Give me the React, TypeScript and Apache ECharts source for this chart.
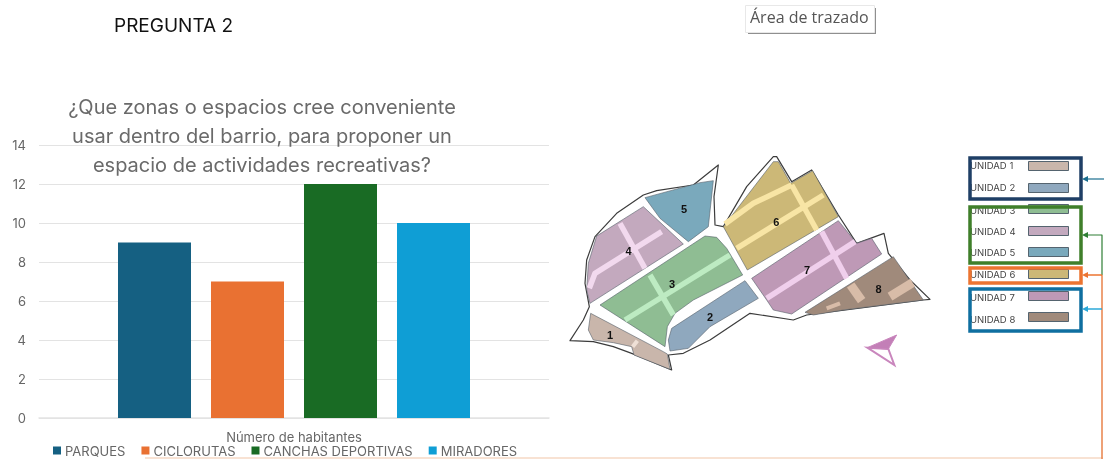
import React, { useEffect, useRef } from "react";
import * as echarts from "echarts";

const axisCategories = ["Número de habitantes"];
const seriesNames = ["PARQUES", "CICLORUTAS", "CANCHAS DEPORTIVAS", "MIRADORES"];
const seriesValues = [9, 7, 12, 10];
const seriesColors = ["#156082", "#E97132", "#196B24", "#0F9ED5"];
const chartTitle = "¿Que zonas o espacios cree conveniente\nusar dentro del barrio, para proponer un\nespacio de actividades recreativas?";
const unitNames = ["UNIDAD 1", "UNIDAD 2", "UNIDAD 3", "UNIDAD 4", "UNIDAD 5", "UNIDAD 6", "UNIDAD 7", "UNIDAD 8"];
const unitColors = ["#C9B6AB", "#8FA8BE", "#8FBD93", "#C3A9BE", "#7AA9BC", "#CCB877", "#BE99B6", "#A08A7B"];

type P = [number, number];
const M = (x: number, y: number): number[] => [560 + x / 3, 150 + y / 3];
const mp = (pts: P[]) => pts.map(([x, y]) => M(x, y));

const outline: P[] = [[30,572],[70,510],[88,470],[75,400],[80,330],[105,260],[170,190],[250,135],[290,122],[400,105],[475,45],[462,140],[465,225],[490,230],[560,110],[640,20],[650,20],[695,95],[755,60],[835,195],[890,280],[972,250],[985,310],[1050,390],[1110,448],[1090,450],[740,495],[700,510],[570,490],[450,570],[370,610],[325,615],[335,660],[215,610],[160,590],[100,575]];
const unitShapes: P[][] = [
  [[92,490],[310,605],[322,612],[330,658],[222,615],[215,590],[160,578],[100,570],[85,540]],
  [[335,535],[555,392],[595,445],[450,530],[385,595],[330,603],[325,570]],
  [[120,465],[435,258],[470,262],[500,295],[548,375],[400,450],[345,490],[322,530],[315,590]],
  [[90,460],[370,282],[250,170],[110,258],[85,340],[80,420]],
  [[255,143],[420,98],[460,92],[445,230],[385,275],[300,205]],
  [[490,230],[640,35],[655,35],[692,100],[758,62],[835,200],[562,360]],
  [[575,385],[835,212],[890,280],[935,265],[965,312],[695,492],[640,480],[620,450]],
  [[735,487],[1000,320],[1090,450],[850,480],[760,495]],
];
const streets: { c: string; w: number; pts: P[] }[] = [
  { c: "#EFE0D6", w: 4, pts: [[218,590],[232,572]] },
  { c: "#BDEBC2", w: 5.5, pts: [[195,510],[510,315]] },
  { c: "#BDEBC2", w: 5.5, pts: [[270,375],[340,495]] },
  { c: "#F2D9EE", w: 5.5, pts: [[88,415],[105,370],[305,245]] },
  { c: "#F2D9EE", w: 5.5, pts: [[180,220],[255,355]] },
  { c: "#F8E5A5", w: 5.5, pts: [[495,222],[580,160],[695,105]] },
  { c: "#F8E5A5", w: 5.5, pts: [[530,295],[790,135]] },
  { c: "#F8E5A5", w: 5.5, pts: [[695,105],[770,240]] },
  { c: "#F0CFEC", w: 5.5, pts: [[620,445],[885,275]] },
  { c: "#F0CFEC", w: 5.5, pts: [[785,245],[860,385]] },
  { c: "#D8BCA8", w: 9, pts: [[872,405],[905,452]] },
  { c: "#D8BCA8", w: 9, pts: [[990,440],[1058,398]] },
  { c: "#D8BCA8", w: 4, pts: [[800,475],[840,460]] },
];
const mapLabels: P[] = [[150,556],[450,502],[336,403],[206,302],[372,178],[649,215],[741,360],[956,418]];
const labelY = [165, 187, 210, 231, 252, 274, 297, 319];
const swatchY = [161, 183, 204, 226, 247, 269, 291, 312];
const boxes = [
  { c: "#1F3F66", x: 970, y: 158, w: 111, h: 41 },
  { c: "#3F7F2A", x: 970, y: 207, w: 111, h: 56 },
  { c: "#EC7431", x: 970, y: 268, w: 111, h: 15 },
  { c: "#0F6FA0", x: 970, y: 289, w: 111, h: 42 },
];

const line = (pts: number[][], color: string, w: number, z = 10) => ({
  type: "polyline", z, silent: true, shape: { points: pts },
  style: { stroke: color, lineWidth: w, fill: "none", lineJoin: "round" },
});
const head = (x: number, y: number, color: string) => ({
  type: "polygon", z: 12, silent: true,
  shape: { points: [[x, y], [x + 6, y - 3], [x + 6, y + 3]] }, style: { fill: color },
});

export default function App() {
  const ref = useRef<HTMLDivElement>(null);
  useEffect(() => {
    const chart = echarts.init(ref.current!, undefined, { renderer: "svg" });
    const graphics: any[] = [
      { type: "text", x: 114, y: 16, style: { text: "PREGUNTA 2", fontSize: 19, fontFamily: "Inter", fill: "#111" } },
      { type: "rect", shape: { x: 748, y: 8, width: 128, height: 26 }, style: { fill: "#8f8f8f" } },
      { type: "rect", shape: { x: 745.5, y: 5.5, width: 129, height: 27 }, style: { fill: "#fff", stroke: "#e8e8e8", lineWidth: 1 } },
      { type: "text", x: 750, y: 9, style: { text: "Área de trazado", fontSize: 16, fontFamily: "Open Sans", fill: "#555" } },
      { type: "polygon", z: 5, silent: true, shape: { points: mp(outline) }, style: { fill: "#fff", stroke: "#3c3c3c", lineWidth: 1.2, lineJoin: "round" } },
    ];
    unitShapes.forEach((s, i) => graphics.push({
      type: "polygon", z: 6, silent: true, shape: { points: mp(s) },
      style: { fill: unitColors[i], stroke: "#55606a", lineWidth: 0.6, lineJoin: "round" },
    }));
    streets.forEach((s) => graphics.push(line(mp(s.pts), s.c, s.w, 7)));
    mapLabels.forEach(([x, y], i) => {
      const [ax, ay] = M(x, y);
      graphics.push({ type: "text", z: 8, x: ax, y: ay, style: { text: String(i + 1), fontSize: 11, fontWeight: "bold", fontFamily: "Liberation Sans", fill: "#111", align: "center", verticalAlign: "middle" } });
    });
    // north arrow
    graphics.push({ type: "polygon", z: 6, shape: { points: mp([[922,593],[1003,645],[985,597]]) }, style: { fill: "#fff", stroke: "#C986BD", lineWidth: 2 } });
    graphics.push({ type: "polygon", z: 6, shape: { points: mp([[1010,555],[922,593],[985,597]]) }, style: { fill: "#C37FB7", stroke: "#C986BD", lineWidth: 1 } });
    // unit legend
    unitNames.forEach((n, i) => {
      graphics.push({ type: "text", z: 9, x: 970, y: labelY[i], style: { text: n, fontSize: 9.5, fontFamily: "Inter", fill: "#444", verticalAlign: "middle" } });
      graphics.push({ type: "rect", z: 9, shape: { x: 1028.5, y: swatchY[i] + 0.5, width: 40, height: 9 }, style: { fill: unitColors[i], stroke: "#55646f", lineWidth: 1 } });
    });
    boxes.forEach((b) => graphics.push({ type: "rect", z: 10, shape: { x: b.x, y: b.y, width: b.w, height: b.h }, style: { fill: "none", stroke: b.c, lineWidth: 3.5 } }));
    graphics.push(line([[145, 458], [1103, 458]], "#F6D8C4", 1.5, 9));
    graphics.push(line([[1102, 275], [1102, 459]], "#E9824A", 1.5, 10));
    graphics.push(line([[1088, 235], [1102, 235], [1102, 275]], "#2F7F35", 1.2, 11));
    graphics.push(line([[1088, 275], [1102, 275]], "#EC7431", 1.5, 11));
    graphics.push(line([[1088, 179], [1104, 179]], "#1B6E8F", 1.2, 11));
    graphics.push(line([[1088, 309], [1102, 309]], "#2BA8D8", 1.5, 11));
    graphics.push(head(1082, 179, "#1B6E8F"), head(1082, 235, "#2F7F35"), head(1082, 275, "#EC7431"), head(1082, 309, "#2BA8D8"));

    chart.setOption({
      animation: false,
      title: {
        text: chartTitle, left: 257, top: 87, textAlign: "center",
        textStyle: { fontFamily: "Inter", fontSize: 20, fontWeight: "normal", color: "#6a6a6a", lineHeight: 29 },
      },
      grid: { left: 39, top: 145, width: 510, height: 273, containLabel: false },
      legend: {
        left: 53, top: 444, itemWidth: 8, itemHeight: 8, itemGap: 16, icon: "rect", padding: 0,
        data: seriesNames,
        textStyle: { fontFamily: "Inter", fontSize: 13, color: "#666", padding: [0, 0, 0, -1] },
      },
      xAxis: {
        type: "category", data: axisCategories,
        axisTick: { show: false },
        axisLine: { lineStyle: { color: "#e3e3e3", width: 1.5 } },
        axisLabel: { fontFamily: "Inter", fontSize: 13, color: "#666", margin: 12 },
      },
      yAxis: {
        type: "value", min: 0, max: 14, interval: 2,
        axisLine: { show: false }, axisTick: { show: false },
        axisLabel: { fontFamily: "Inter", fontSize: 13, color: "#666", margin: 13 },
        splitLine: { lineStyle: { color: "#e3e3e3", width: 1.2 } },
      },
      series: seriesNames.map((name, i) => ({
        name, type: "bar", data: [seriesValues[i]], barWidth: 73, barGap: "27.4%",
        itemStyle: { color: seriesColors[i] },
      })),
      graphic: graphics,
    });
    return () => chart.dispose();
  }, []);
  return <div ref={ref} style={{ position: "fixed", left: 0, top: 0, width: 1104, height: 459 }} />;
}
